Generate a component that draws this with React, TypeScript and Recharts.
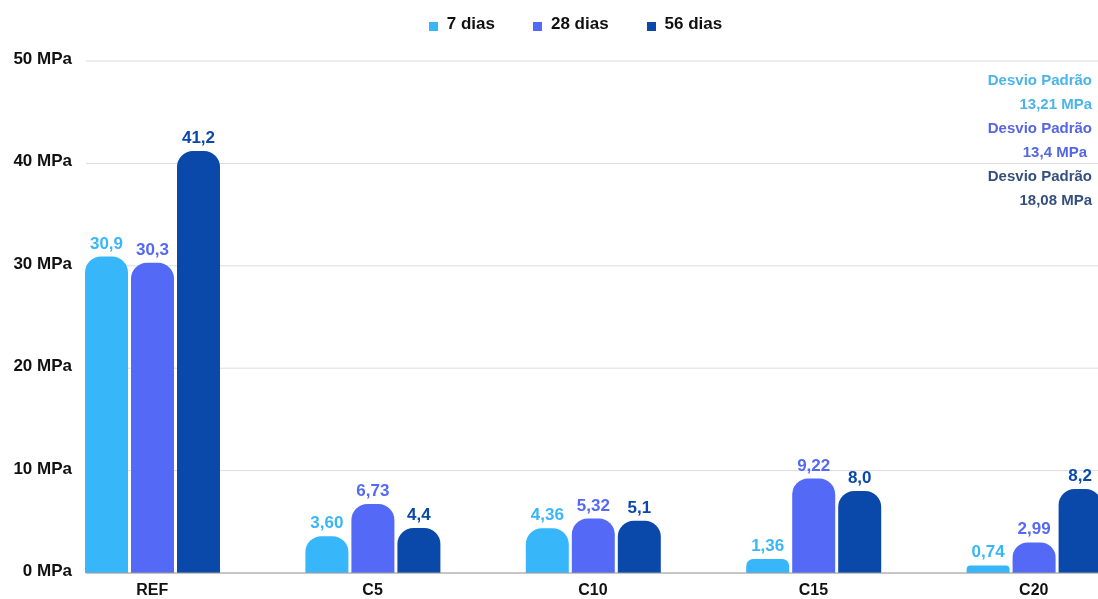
import { Bar, BarChart, CartesianGrid, LabelList, Legend, XAxis, YAxis } from "recharts";

const categories = ["REF", "C5", "C10", "C15", "C20"];

// compressive strength (MPa) per age, with the decimals shown on each label
const dias7 = [30.9, 3.6, 4.36, 1.36, 0.74];
const dias7Decimals = [1, 2, 2, 2, 2];
const dias28 = [30.3, 6.73, 5.32, 9.22, 2.99];
const dias28Decimals = [1, 2, 2, 2, 2];
const dias56 = [41.2, 4.4, 5.1, 8.0, 8.2];
const dias56Decimals = [1, 1, 1, 1, 1];

const yTicks = [0, 10, 20, 30, 40, 50];

const seriesNames = ["7 dias", "28 dias", "56 dias"];
const desvioPadrao = ["13,21 MPa", "13,4 MPa", "18,08 MPa"];

const colors = ["#38b6fa", "#5569f7", "#0a48aa"];
const noteColors = ["#4cb4e8", "#5566e0", "#34507c"];

const FONT = '"Liberation Sans", Arial, sans-serif';

const fmt = (v: number, d: number) => v.toFixed(d).replace(".", ",");

const data = categories.map((name, i) => ({
  name,
  d7: dias7[i],
  d28: dias28[i],
  d56: dias56[i],
  l7: fmt(dias7[i], dias7Decimals[i]),
  l28: fmt(dias28[i], dias28Decimals[i]),
  l56: fmt(dias56[i], dias56Decimals[i]),
}));

const LegendContent = () => (
  <div
    style={{
      display: "flex",
      justifyContent: "center",
      gap: 38,
      fontFamily: FONT,
      fontWeight: 700,
      fontSize: 17,
      lineHeight: "20px",
      color: "#111",
      paddingLeft: 53,
    }}
  >
    {seriesNames.map((n, i) => (
      <span key={n} style={{ display: "flex", alignItems: "center" }}>
        <span
          style={{
            width: 9,
            height: 9,
            background: colors[i],
            marginRight: 9,
            marginTop: 4,
          }}
        />
        {n}
      </span>
    ))}
  </div>
);

const App = () => {
  const barKeys = ["d7", "d28", "d56"];
  const labelKeys = ["l7", "l28", "l56"];
  return (
    <div style={{ position: "fixed", left: 0, top: 0, width: 1098, height: 599, overflow: "hidden" }}>
      <BarChart
        width={1098}
        height={599}
        data={data}
        margin={{ top: 41, right: 0, bottom: 0, left: 0 }}
        barSize={43}
        barGap={3}
      >
        <CartesianGrid vertical={false} stroke="#dcdcdc" />
        <XAxis
          dataKey="name"
          height={26}
          padding={{ left: -44, right: -46 }}
          axisLine={{ stroke: "#9e9e9e" }}
          tickLine={false}
          tickMargin={5}
          tick={{ fill: "#111", fontSize: 16, fontWeight: 700, fontFamily: FONT }}
        />
        <YAxis
          domain={[0, 50]}
          ticks={yTicks}
          width={86}
          axisLine={false}
          tickLine={false}
          tickMargin={8}
          tickFormatter={(v) => `${v} MPa`}
          tick={{ fill: "#111", fontSize: 17, fontWeight: 700, fontFamily: FONT, dy: -3 }}
        />
        <Legend verticalAlign="top" wrapperStyle={{ top: 14 }} content={<LegendContent />} />
        {barKeys.map((k, i) => (
          <Bar
            key={k}
            dataKey={k}
            name={seriesNames[i]}
            fill={colors[i]}
            radius={[16, 16, 0, 0]}
            isAnimationActive={false}
          >
            <LabelList
              dataKey={labelKeys[i]}
              position="top"
              offset={8}
              fill={colors[i]}
              style={{ fontSize: 17, fontWeight: 700, fontFamily: FONT }}
            />
          </Bar>
        ))}
      </BarChart>
      <div
        style={{
          position: "absolute",
          right: 6,
          top: 68,
          textAlign: "right",
          fontFamily: FONT,
          fontWeight: 700,
          fontSize: 15,
          lineHeight: "24px",
        }}
      >
        {desvioPadrao.map((d, i) => (
          <div key={d} style={{ color: noteColors[i] }}>
            <div>Desvio Padrão</div>
            <div style={{ marginRight: i === 1 ? 5 : 0 }}>{d}</div>
          </div>
        ))}
      </div>
    </div>
  );
};

export default App;
